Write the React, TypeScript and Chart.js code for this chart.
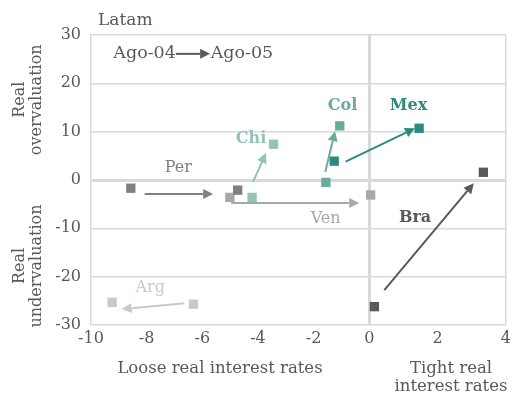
import React, { useEffect, useRef } from "react";
import { Chart, registerables, LinearScale } from "chart.js";

Chart.register(...registerables);

class PiecewiseScale extends LinearScale {
  static id = "piecewise";
  static defaults = LinearScale.defaults;
  getPixelForValue(value: number) {
    const f = (this.options as any).zeroAt ?? 0.5;
    let d: number;
    if (value <= 0) d = ((value - this.min) / (0 - this.min)) * f;
    else d = f + (value / this.max) * (1 - f);
    return this.getPixelForDecimal(d);
  }
  getValueForPixel(pixel: number) {
    const f = (this.options as any).zeroAt ?? 0.5;
    const d = this.getDecimalForPixel(pixel);
    if (d <= f) return this.min + (d / f) * (0 - this.min);
    return ((d - f) / (1 - f)) * this.max;
  }
}
Chart.register(PiecewiseScale as any);

// ---- Data ----
const countries = ["Per", "Ven", "Chi", "Col", "Mex", "Bra", "Arg"];
const colors = ["#808080", "#a8a8a8", "#93c4b8", "#6aab9c", "#2e8b7c", "#595959", "#c9c9c9"];
const bold = [false, false, true, true, true, true, false];
// Ago-04 values
const startX = [-8.57, -5.01, -4.21, -1.56, -1.26, 0.15, -6.32];
const startY = [-1.7, -3.6, -3.6, -0.5, 3.9, -26.2, -25.7];
// Ago-05 values
const endX = [-4.73, 0.04, -3.44, -1.06, 1.46, 3.34, -9.24];
const endY = [-2.1, -3.1, 7.4, 11.2, 10.7, 1.6, -25.3];
// arrow shapes (from -> to)
const arrowFromX = [-8.07, -4.96, -4.18, -1.58, -0.85, 0.44, -6.64];
const arrowFromY = [-2.9, -4.76, -0.41, 1.72, 3.79, -22.8, -25.5];
const arrowToX = [-5.61, -0.36, -3.71, -1.23, 1.34, 3.06, -8.9];
const arrowToY = [-2.9, -4.76, 5.59, 10.1, 10.7, -0.68, -26.7];
// label positions
const labelX = [-6.86, -1.57, -4.25, -0.96, 1.15, 1.34, -7.87];
const labelY = [2.5, -8.1, 8.6, 15.3, 15.3, -7.9, -22.3];

const xTicks = [-10, -8, -6, -4, -2, 0, 2, 4];
const yTicks = [-30, -20, -10, 0, 10, 20, 30];
const legendFrom = "Ago-04";
const legendTo = "Ago-05";
const title = "Latam";

const FONT = "'DejaVu Serif', serif";
const TEXT = "#595959";
const GRID = "#d9d9d9";

function drawArrow(ctx: CanvasRenderingContext2D, x1: number, y1: number, x2: number, y2: number, color: string) {
  const ang = Math.atan2(y2 - y1, x2 - x1);
  const hl = 10, hw = 5;
  const bx = x2 - hl * Math.cos(ang), by = y2 - hl * Math.sin(ang);
  ctx.save();
  ctx.strokeStyle = color;
  ctx.fillStyle = color;
  ctx.lineWidth = 2;
  ctx.beginPath();
  ctx.moveTo(x1, y1);
  ctx.lineTo(bx, by);
  ctx.stroke();
  ctx.beginPath();
  ctx.moveTo(x2, y2);
  ctx.lineTo(bx + hw * Math.sin(ang), by - hw * Math.cos(ang));
  ctx.lineTo(bx - hw * Math.sin(ang), by + hw * Math.cos(ang));
  ctx.closePath();
  ctx.fill();
  ctx.restore();
}

const annotations = {
  id: "annotations",
  afterDatasetsDraw(chart: any) {
    const { ctx, chartArea, scales } = chart;
    const xs = scales.x, ys = scales.y;
    ctx.save();
    // arrows
    countries.forEach((_, i) => {
      drawArrow(ctx, xs.getPixelForValue(arrowFromX[i]), ys.getPixelForValue(arrowFromY[i]),
        xs.getPixelForValue(arrowToX[i]), ys.getPixelForValue(arrowToY[i]), colors[i]);
    });
    // labels
    ctx.textAlign = "center";
    ctx.textBaseline = "middle";
    countries.forEach((c, i) => {
      ctx.font = `${bold[i] ? "bold " : ""}16px ${FONT}`;
      ctx.fillStyle = colors[i];
      ctx.fillText(c, xs.getPixelForValue(labelX[i]), ys.getPixelForValue(labelY[i]));
    });
    // legend
    ctx.font = `17.5px ${FONT}`;
    ctx.fillStyle = TEXT;
    const ly = ys.getPixelForValue(26.1);
    ctx.textAlign = "right";
    ctx.fillText(legendFrom, xs.getPixelForValue(-6.95), ly);
    ctx.textAlign = "left";
    ctx.fillText(legendTo, xs.getPixelForValue(-5.7), ly);
    drawArrow(ctx, xs.getPixelForValue(-6.95), ly, xs.getPixelForValue(-5.72), ly, TEXT);
    // title
    ctx.textAlign = "left";
    ctx.font = `17px ${FONT}`;
    ctx.fillText(title, chartArea.left + 7, chartArea.top - 14);
    // x titles
    ctx.font = `16.5px ${FONT}`;
    ctx.textAlign = "center";
    ctx.fillText("Loose real interest rates", 220, chartArea.bottom + 44);
    ctx.fillText("Tight real", 451, chartArea.bottom + 44);
    ctx.fillText("interest rates", 451, chartArea.bottom + 62);
    // y titles
    ctx.font = `16px ${FONT}`;
    const drawV = (lines: string[], cy: number) => {
      ctx.save();
      ctx.translate(28.5, cy);
      ctx.rotate(-Math.PI / 2);
      ctx.fillText(lines[0], 0, -8.5);
      ctx.fillText(lines[1], 0, 8.5);
      ctx.restore();
    };
    drawV(["Real", "overvaluation"], ys.getPixelForValue(16.6));
    drawV(["Real", "undervaluation"], ys.getPixelForValue(-17.8));
    ctx.restore();
  },
};

export default function App() {
  const ref = useRef<HTMLCanvasElement>(null);
  useEffect(() => {
    if (!ref.current) return;
    const datasets = countries.map((c, i) => ({
      label: c,
      data: [
        { x: startX[i], y: startY[i] },
        { x: endX[i], y: endY[i] },
      ],
      pointStyle: "rect",
      pointRadius: 6.6,
      pointBackgroundColor: colors[i],
      pointBorderWidth: 0,
      borderColor: colors[i],
      backgroundColor: colors[i],
      showLine: false,
    }));
    const chart = new Chart(ref.current, {
      type: "scatter",
      data: { datasets },
      plugins: [annotations],
      options: {
        animation: false,
        responsive: true,
        maintainAspectRatio: false,
        layout: { padding: { left: 0, top: 35, right: 5, bottom: 0 } },
        plugins: { legend: { display: false }, tooltip: { enabled: false } },
        scales: {
          x: {
            type: "piecewise" as any,
            zeroAt: 281 / 419,
            min: xTicks[0],
            max: xTicks[xTicks.length - 1],
            afterBuildTicks: (s: any) => { s.ticks = xTicks.map((v) => ({ value: v })); },
            afterFit: (s: any) => { s.height = 71; },
            ticks: { color: TEXT, font: { family: FONT, size: 16 }, padding: 4, maxRotation: 0, autoSkip: false },
            grid: {
              drawTicks: false,
              color: (c: any) => (c.tick && c.tick.value === 0 ? GRID : c.tick && (c.tick.value === 4) ? GRID : "rgba(0,0,0,0)"),
              lineWidth: (c: any) => (c.tick && c.tick.value === 0 ? 3 : 1.5),
            },
            border: { display: false },
          } as any,
          y: {
            min: -30,
            max: 30,
            afterBuildTicks: (s: any) => { s.ticks = yTicks.map((v) => ({ value: v })); },
            afterFit: (s: any) => { s.width = 91; },
            ticks: { color: TEXT, font: { family: FONT, size: 16 }, padding: 10 },
            grid: {
              drawTicks: false,
              color: GRID,
              lineWidth: (c: any) => (c.tick && c.tick.value === 0 ? 3 : 1.5),
            },
            border: { display: true, color: GRID, width: 1.5 },
          },
        },
      } as any,
    });
    return () => chart.destroy();
  }, []);
  return (
    <div style={{ position: "fixed", left: 0, top: 0, width: 515, height: 396, background: "#fff" }}>
      <canvas ref={ref} />
    </div>
  );
}
